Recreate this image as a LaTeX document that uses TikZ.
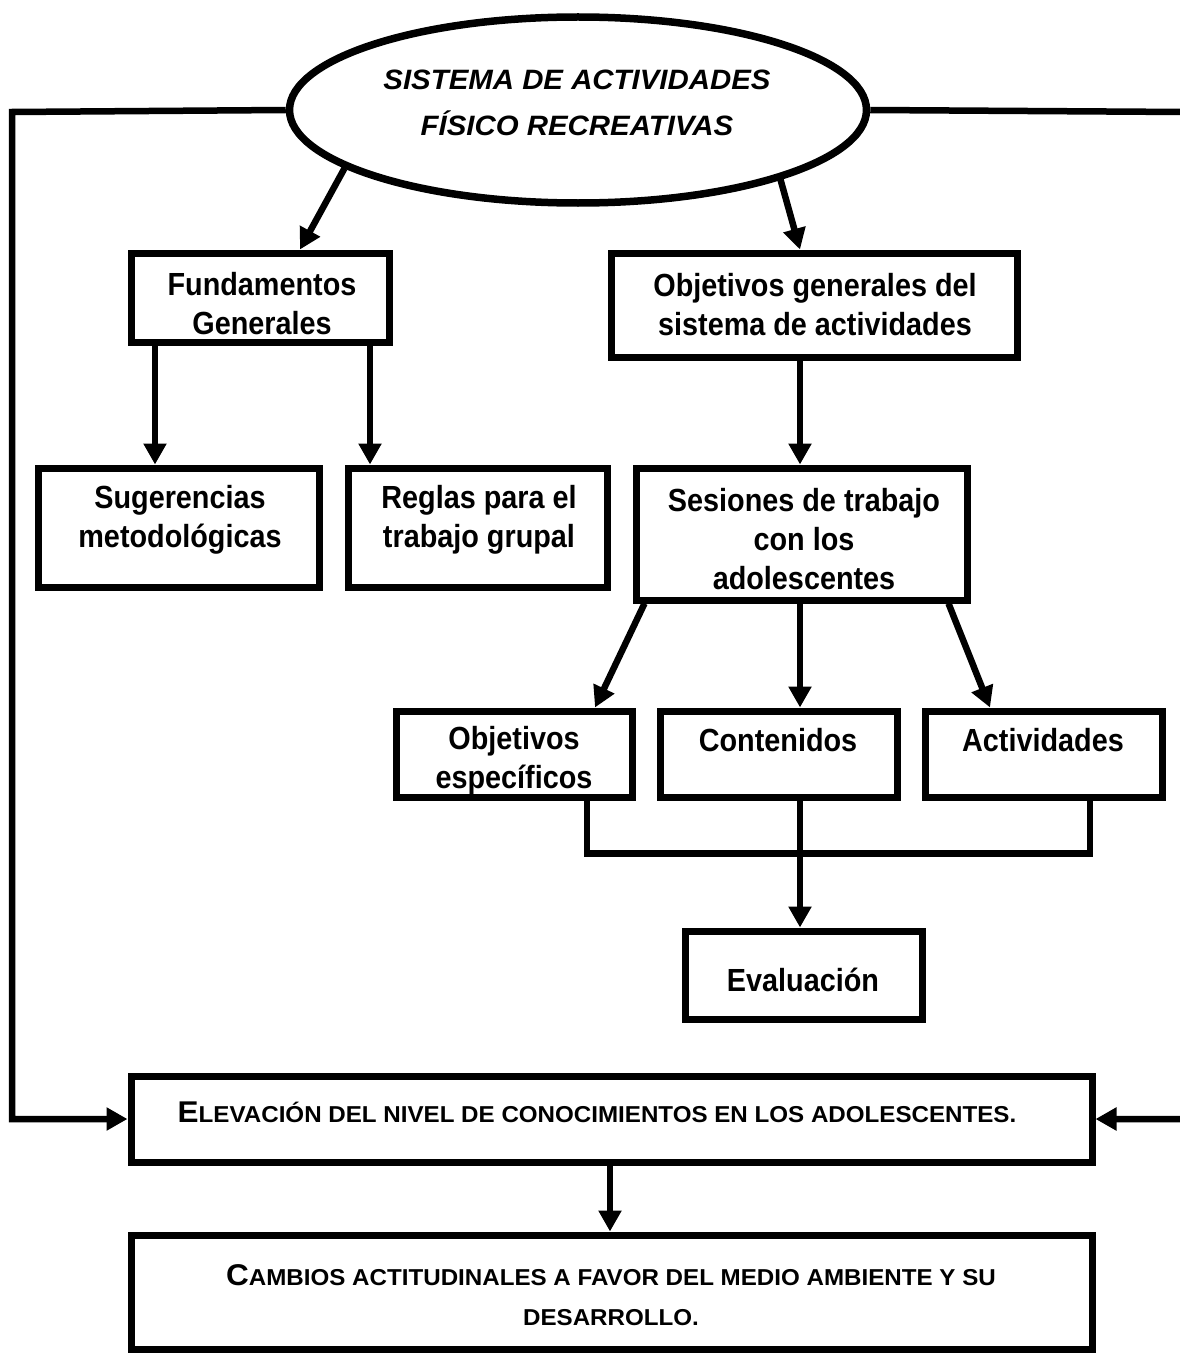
\documentclass[tikz,border=0pt]{standalone}
\usepackage{fontspec}
\setmainfont{Liberation Sans}
\newfontfamily\boxfont[FakeStretch=0.9]{Liberation Sans}
\newfontfamily\ellfont[FakeStretch=1.05]{Liberation Sans}
\newfontfamily\scfont[FakeStretch=1.05]{Liberation Sans}
\usetikzlibrary{arrows.meta,shapes.geometric}
\newcommand\bigsc[1]{{\fontsize{30}{30}\selectfont #1}}
\newcommand\smsc[1]{{\fontsize{23}{30}\selectfont #1}}
\tikzset{
  box/.style={draw, line width=7pt, inner sep=0pt},
  txt/.style={align=center, font=\boxfont\fontsize{32}{39}\selectfont\bfseries, inner sep=0pt},
  conn/.style={line width=6.5pt},
  arr/.style={line width=6.5pt, -{Triangle[length=21pt,width=22pt]}},
}
\begin{document}
\begin{tikzpicture}[x=1pt,y=-1pt]
\useasboundingbox[fill=white] (0,0) rectangle (1180,1362);
% nodes
\node[ellipse, draw, line width=7.5pt, minimum width=577pt, minimum height=186pt, inner sep=0pt] (sys) at (578,110) {};
\node[txt, font=\ellfont\fontsize{28}{46}\selectfont\bfseries\itshape] (tsys) at (577,103) {SISTEMA DE ACTIVIDADES\\FÍSICO RECREATIVAS};

\node[box, minimum width=258pt, minimum height=89pt] (fund) at (260,297.5) {};
\node[txt] (tfund) at (262,304) {Fundamentos\\Generales};

\node[box, minimum width=406pt, minimum height=104pt] (obj) at (814,305) {};
\node[txt] (tobj) at (815,305) {Objetivos generales del\\sistema de actividades};

\node[box, minimum width=281pt, minimum height=119pt] (sug) at (178.5,527.5) {};
\node[txt] (tsug) at (180,520) {Sugerencias\\metodológicas};

\node[box, minimum width=259pt, minimum height=119pt] (reg) at (477.5,527.5) {};
\node[txt] (treg) at (479,520) {Reglas para el\\trabajo grupal};

\node[box, minimum width=331pt, minimum height=132pt] (ses) at (801.5,534) {};
\node[txt] (tses) at (804,539) {Sesiones de trabajo\\con los\\adolescentes};

\node[box, minimum width=236pt, minimum height=86pt] (oe) at (514,754) {};
\node[txt] (toe) at (514,761) {Objetivos\\específicos};

\node[box, minimum width=237pt, minimum height=86pt] (con) at (778.5,754) {};
\node[txt] (tcon) at (778,740) {Contenidos};

\node[box, minimum width=237pt, minimum height=86pt] (act) at (1043.5,754) {};
\node[txt] (tact) at (1043,740) {Actividades};

\node[box, minimum width=237pt, minimum height=88pt] (eva) at (803.5,975) {};
\node[txt] (teva) at (803,980) {Evaluación};

\node[box, minimum width=961pt, minimum height=86pt] (ele) at (611.5,1119) {};
\node[txt, font=\scfont\bfseries] (tele) at (597,1112) {\bigsc{E}\smsc{LEVACIÓN DEL NIVEL DE CONOCIMIENTOS EN LOS ADOLESCENTES.}};

\node[box, minimum width=961pt, minimum height=114pt] (cam) at (611.5,1292) {};
\node[txt, font=\scfont\fontsize{23}{40}\selectfont\bfseries] (tcam) at (611,1295) {\bigsc{C}\smsc{AMBIOS ACTITUDINALES A FAVOR DEL MEDIO AMBIENTE Y SU}\\\smsc{DESARROLLO.}};

% connectors
\draw[arr] (sys.194) -- ([xshift=40pt]fund.north);
\draw[arr] (sys.-19) -- ([xshift=-14pt]obj.north);
\draw[arr] ([xshift=-105pt]fund.south) -- ([xshift=-105pt]fund.south |- sug.north);
\draw[arr] ([xshift=110pt]fund.south) -- ([xshift=110pt]fund.south |- reg.north);
\draw[arr] ([xshift=-14pt]obj.south) -- ([xshift=-14pt]obj.south |- ses.north);
\draw[arr] ([xshift=12pt]ses.south west) -- ([xshift=81pt]oe.north);
\draw[arr] ([xshift=-1.5pt]ses.south) -- ([xshift=-1.5pt]ses.south |- con.north);
\draw[arr] ([xshift=-22pt]ses.south east) -- ([xshift=-53.5pt]act.north);
\draw[conn] ([xshift=73pt]oe.south) -- ++(0,53) -| ([xshift=46.5pt]act.south);
\draw[arr] ([xshift=21.5pt]con.south) -- ([xshift=21.5pt]con.south |- eva.north);
\coordinate (L1) at (12,112);
\coordinate (R1) at (1185,112);
\draw[arr] (sys.west) -- (L1) -- (L1 |- ele.west) -- (ele.west);
\draw[arr] (sys.east) -- (R1) -- (R1 |- ele.east) -- (ele.east);
\draw[arr] ([xshift=-1.5pt]ele.south) -- ([xshift=-1.5pt]ele.south |- cam.north);
\end{tikzpicture}
\end{document}
